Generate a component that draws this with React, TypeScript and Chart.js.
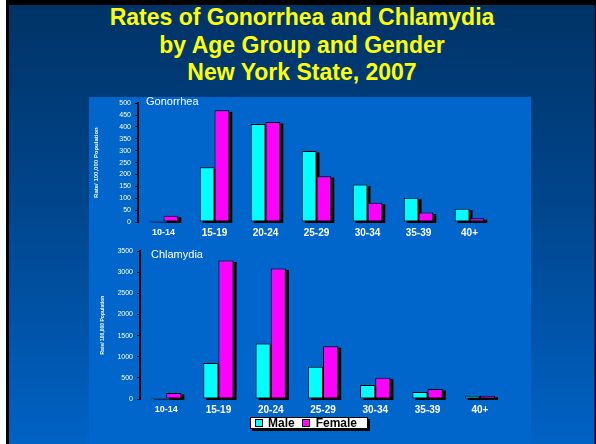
import React, { useEffect, useRef } from "react";
import { Chart, registerables } from "chart.js";

Chart.register(...registerables);

const ageGroups = ["10-14", "15-19", "20-24", "25-29", "30-34", "35-39", "40+"];
const gonorrheaMale = [4, 230, 412, 299, 158, 102, 56];
const gonorrheaFemale = [26, 470, 421, 193, 81, 40, 16];
const chlamydiaMale = [25, 850, 1314, 763, 330, 165, 79];
const chlamydiaFemale = [142, 3281, 3092, 1251, 504, 236, 79];
const seriesNames = ["Male", "Female"];
const yTitle = "Rate/ 100,000 Population";

const FONT = "'Liberation Sans', Arial, Helvetica, sans-serif";
const CYAN = "#00FFFF";
const MAGENTA = "#FF00FF";

const shadowPlugin = {
  id: "barShadow",
  beforeDatasetsDraw(chart: any) {
    const ctx = chart.ctx;
    ctx.save();
    ctx.fillStyle = "#000";
    for (let d = 0; d < chart.data.datasets.length; d++) {
      const meta = chart.getDatasetMeta(d);
      meta.data.forEach((el: any) => {
        const p = el.getProps(["x", "y", "base", "width"], true);
        const left = p.x - p.width / 2;
        ctx.fillRect(left + 3, p.y + 1.5, p.width, p.base - p.y);
      });
    }
    ctx.restore();
  },
};

type Cfg = {
  male: number[];
  female: number[];
  max: number;
  step: number;
  width: number;
  height: number;
  yWidth: number;
  xHeight: number;
  padTop: number;
  padRight: number;
  titlePad: number;
  titleSize: number;
};

function BarChart(props: Cfg) {
  const ref = useRef<HTMLCanvasElement | null>(null);
  useEffect(() => {
    if (!ref.current) return;
    const chart = new Chart(ref.current, {
      type: "bar",
      data: {
        labels: ageGroups,
        datasets: [
          {
            label: seriesNames[0],
            data: props.male,
            backgroundColor: CYAN,
            borderColor: "#000",
            borderWidth: 1,
            borderSkipped: false,
          },
          {
            label: seriesNames[1],
            data: props.female,
            backgroundColor: MAGENTA,
            borderColor: "#000",
            borderWidth: 1,
            borderSkipped: false,
          },
        ],
      },
      options: {
        animation: false,
        responsive: false,
        devicePixelRatio: 1,
        layout: { padding: { top: props.padTop, right: props.padRight, left: 0, bottom: 0 } },
        plugins: { legend: { display: false }, tooltip: { enabled: false }, title: { display: false } },
        datasets: { bar: { categoryPercentage: 0.58, barPercentage: 1.0 } },
        scales: {
          x: {
            grid: { display: false, drawTicks: false },
            border: { display: false },
            ticks: {
              color: "#fff",
              padding: 5,
              font: (ctx: any) => ({ family: FONT, size: ctx.index === 0 ? 9 : 10, weight: "bold" }),
            },
            afterFit: (s: any) => {
              s.height = props.xHeight;
            },
          },
          y: {
            min: 0,
            max: props.max,
            ticks: {
              stepSize: props.step,
              color: "#fff",
              padding: 4,
              font: { family: FONT, size: 7 },
              callback: (v: any) => String(v),
            },
            grid: { display: true, drawOnChartArea: false, color: "#000", tickLength: 3, lineWidth: 1 },
            border: { display: true, color: "#000", width: 2 },
            title: {
              display: true,
              text: yTitle,
              color: "#fff",
              font: { family: FONT, size: props.titleSize, weight: "bold" },
              padding: { top: props.titlePad, bottom: 0 },
            },
            afterFit: (s: any) => {
              s.width = props.yWidth;
            },
          },
        },
      } as any,
      plugins: [shadowPlugin],
    });
    return () => chart.destroy();
  }, []);
  return <canvas ref={ref} width={props.width} height={props.height} style={{ display: "block" }} />;
}

export default function App() {
  return (
    <div style={{ position: "fixed", left: 0, top: 0, width: 596, height: 444, background: "#fff", overflow: "hidden", fontFamily: FONT }}>
      <div style={{ position: "absolute", left: 6, top: 0, width: 590, height: 444, background: "#000" }} />
      <div
        style={{
          position: "absolute",
          left: 9,
          top: 5,
          width: 586,
          height: 439,
          background: "linear-gradient(to bottom, #003366 0%, #00458c 45%, #0062c4 100%)",
          borderRight: "1px solid #002a5a",
          boxSizing: "border-box",
        }}
      />
      <div
        style={{
          position: "absolute",
          left: 9,
          top: 4,
          width: 586,
          textAlign: "center",
          color: "#FFFF00",
          fontWeight: "bold",
          fontSize: 23,
          lineHeight: "27.5px",
        }}
      >
        <div>Rates of Gonorrhea and Chlamydia</div>
        <div>by Age Group and Gender</div>
        <div>New York State, 2007</div>
      </div>
      <div style={{ position: "absolute", left: 89, top: 97, width: 442, height: 347, background: "#0066CC" }} />
      <div style={{ position: "absolute", left: 89, top: 95 }}>
        <BarChart
          male={gonorrheaMale}
          female={gonorrheaFemale}
          max={500}
          step={50}
          width={442}
          height={145}
          yWidth={49}
          xHeight={18}
          padTop={6}
          padRight={36}
          titlePad={4}
          titleSize={6}
        />
      </div>
      <div style={{ position: "absolute", left: 89, top: 243 }}>
        <BarChart
          male={chlamydiaMale}
          female={chlamydiaFemale}
          max={3500}
          step={500}
          width={442}
          height={201}
          yWidth={51}
          xHeight={45}
          padTop={8}
          padRight={25}
          titlePad={11}
          titleSize={5}
        />
      </div>
      <div style={{ position: "absolute", left: 146, top: 95, color: "#fff", fontSize: 11, lineHeight: "13px" }}>Gonorrhea</div>
      <div style={{ position: "absolute", left: 151, top: 248, color: "#fff", fontSize: 11, lineHeight: "13px" }}>Chlamydia</div>
      <div
        style={{
          position: "absolute",
          left: 250,
          top: 417,
          width: 118,
          height: 12,
          background: "#fff",
          border: "1px solid #000",
          boxShadow: "2px 2px 0 #000",
          boxSizing: "border-box",
          display: "flex",
          alignItems: "center",
          fontSize: 12,
          fontWeight: "bold",
          color: "#000",
          lineHeight: "10px",
        }}
      >
        <span style={{ display: "inline-block", width: 6, height: 6, background: CYAN, border: "1px solid #000", marginLeft: 4, marginRight: 5 }} />
        <span>{seriesNames[0]}</span>
        <span style={{ display: "inline-block", width: 6, height: 6, background: MAGENTA, border: "1px solid #000", marginLeft: 7, marginRight: 6 }} />
        <span>{seriesNames[1]}</span>
      </div>
    </div>
  );
}
